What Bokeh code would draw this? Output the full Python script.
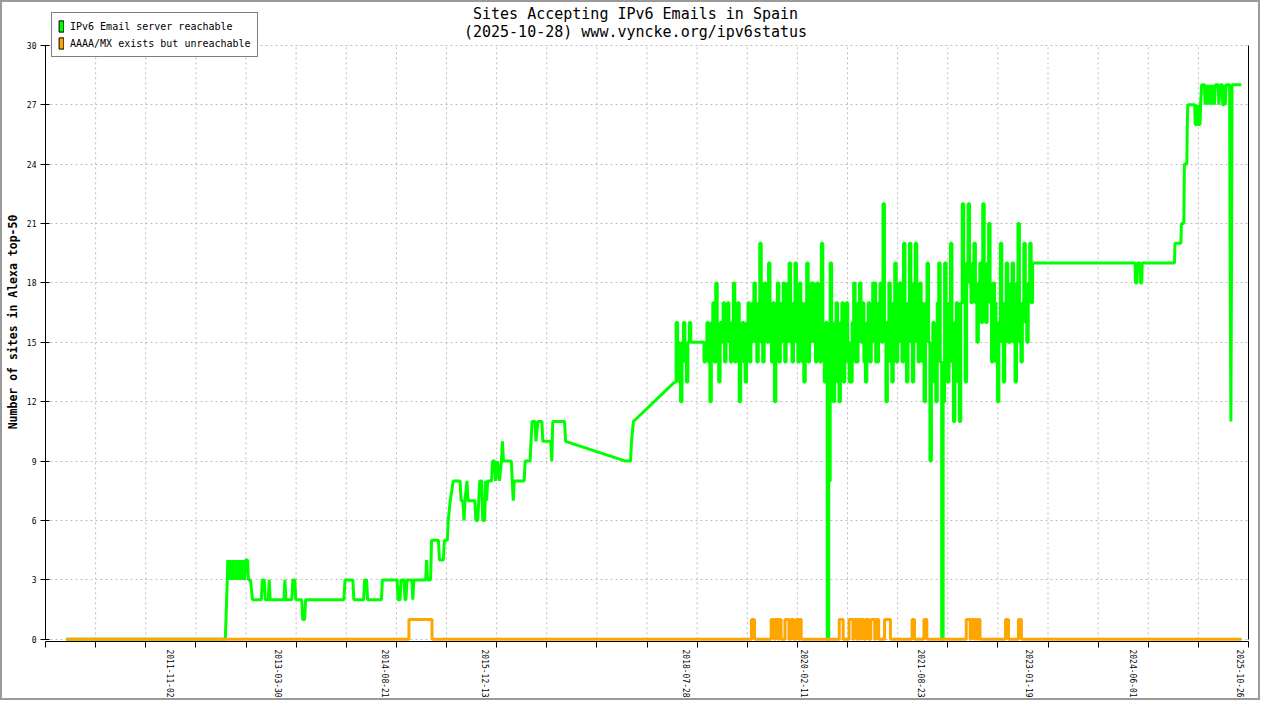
import numpy as np
import pandas as pd
from datetime import datetime
from bokeh.plotting import figure
from bokeh.models import (FixedTicker, LinearAxis, Range1d, Label, Legend, LegendItem,
                          DatetimeTickFormatter)
from bokeh.embed import file_html
from bokeh.resources import INLINE

# ---------------- data ----------------
title_line1 = "Sites Accepting IPv6 Emails in Spain"
title_line2 = "(2025-10-28) www.vyncke.org/ipv6status"
y_label = "Number of sites in Alexa top-50"
series_names = ["IPv6 Email server reachable", "AAAA/MX exists but unreachable"]

x_tick_labels = ["2011-11-02", "2013-03-30", "2014-08-21", "2015-12-13", "2018-07-28",
                 "2020-02-11", "2021-08-23", "2023-01-19", "2024-06-01", "2025-10-26"]
y_ticks = [0, 3, 6, 9, 12, 15, 18, 21, 24, 27, 30]

# reachable sites, early period (decimal years, counts)
reach_early_year = [
    2010.472, 2012.549, 2012.575, 2012.581, 2012.607, 2012.620, 2012.646, 2012.659, 2012.684,
    2012.697, 2012.723, 2012.736, 2012.761, 2012.774, 2012.800, 2012.813, 2012.839, 2012.851,
    2012.877, 2012.903, 2013.019, 2013.032, 2013.057, 2013.070, 2013.109, 2013.122, 2013.134,
    2013.314, 2013.327, 2013.340, 2013.417, 2013.430, 2013.456, 2013.469, 2013.546, 2013.559,
    2013.585, 2013.597, 2014.099, 2014.112, 2014.215, 2014.228, 2014.356, 2014.369, 2014.395,
    2014.408, 2014.588, 2014.601, 2014.794, 2014.806, 2014.832, 2014.845, 2014.884, 2014.897,
    2014.909, 2014.922, 2014.986, 2014.999, 2015.012, 2015.167, 2015.179, 2015.192, 2015.231,
    2015.244, 2015.334, 2015.347, 2015.398, 2015.411, 2015.450, 2015.462, 2015.488, 2015.527,
    2015.617, 2015.630, 2015.655, 2015.668, 2015.681, 2015.707, 2015.720, 2015.810, 2015.823,
    2015.848, 2015.861, 2015.874, 2015.900, 2015.913, 2015.938, 2015.951, 2015.964, 2015.977,
    2016.028, 2016.041, 2016.067, 2016.080, 2016.105, 2016.131, 2016.157, 2016.170, 2016.183,
    2016.286, 2016.298, 2016.311, 2016.324, 2016.453, 2016.466, 2016.530, 2016.543, 2016.556,
    2016.594, 2016.607, 2016.633, 2016.684, 2016.697, 2016.800, 2016.813, 2016.826, 2016.980,
    2016.993, 2017.778, 2017.842, 2017.855, 2017.880, 2018.421]
reach_early_count = [
    0, 0, 3, 4, 3, 4, 3, 4, 3,
    4, 3, 4, 3, 4, 3, 4, 4, 3,
    3, 2, 2, 3, 3, 2, 2, 3, 2,
    2, 3, 2, 2, 3, 3, 2, 2, 1,
    1, 2, 2, 3, 3, 2, 2, 3, 3,
    2, 2, 3, 3, 2, 2, 3, 3, 2,
    2, 3, 3, 2, 3, 3, 4, 3, 3,
    5, 5, 4, 4, 5, 5, 6, 7, 8,
    8, 7, 7, 6, 7, 8, 7, 7, 6,
    6, 7, 8, 8, 6, 6, 8, 7, 8,
    8, 9, 9, 8, 9, 8, 9, 10, 9,
    9, 8, 7, 8, 8, 9, 9, 10, 11,
    11, 10, 11, 11, 10, 10, 9, 11, 11,
    10, 9, 9, 10, 11, 13]

# reachable sites, busy period: one reading every 7 days
reach_dense_start = "2018-06-03"
reach_dense_step_days = 7
reach_dense_count = [
    13, 16, 15, 13, 12, 15, 16, 14, 13, 15,
    16, 15, 15, 15, 15, 15, 15, 15, 15, 15,
    14, 15, 16, 14, 12, 16, 17, 14, 18, 14,
    13, 16, 15, 17, 14, 16, 17, 15, 14, 16,
    18, 14, 15, 17, 12, 15, 16, 14, 13, 16,
    17, 14, 15, 17, 18, 15, 14, 17, 20, 15,
    14, 18, 17, 15, 19, 15, 14, 17, 12, 16,
    18, 14, 15, 17, 18, 14, 15, 18, 19, 15,
    14, 17, 19, 15, 14, 18, 17, 14, 13, 17,
    19, 14, 15, 18, 18, 15, 14, 18, 16, 14,
    20, 15, 13, 16, 0, 8, 19, 14, 12, 16,
    17, 13, 12, 16, 17, 13, 14, 17, 15, 13,
    13, 16, 18, 14, 14, 17, 18, 15, 17, 14,
    13, 16, 17, 14, 15, 18, 18, 14, 14, 17,
    18, 15, 22, 16, 12, 16, 18, 14, 13, 17,
    19, 14, 15, 18, 18, 14, 20, 16, 13, 17,
    20, 15, 13, 18, 20, 15, 14, 18, 17, 14,
    12, 17, 19, 15, 9, 14, 16, 13, 12, 17,
    19, 14, 0, 12, 19, 15, 13, 17, 20, 14,
    11, 16, 17, 13, 11, 17, 22, 17, 13, 19,
    22, 18, 17, 19, 20, 17, 15, 18, 19, 16,
    22, 17, 16, 19, 21, 17, 14, 18, 17, 14,
    12, 16, 20, 15, 13, 17, 19, 15, 15, 18,
    19, 15, 13, 18, 21, 15, 14, 17, 20, 16,
    15, 18, 20, 17, 19]

# reachable sites, late period (decimal years, counts)
reach_late_year = [
    2023.102, 2024.434, 2024.440, 2024.457, 2024.463, 2024.498, 2024.504, 2024.521, 2024.527,
    2024.948, 2024.954, 2025.032, 2025.038, 2025.070, 2025.077, 2025.109, 2025.115, 2025.122,
    2025.212, 2025.218, 2025.244, 2025.250, 2025.257, 2025.282, 2025.289, 2025.302, 2025.340,
    2025.347, 2025.360, 2025.366, 2025.379, 2025.392, 2025.405, 2025.424, 2025.437, 2025.443,
    2025.456, 2025.469, 2025.482, 2025.520, 2025.527, 2025.546, 2025.572, 2025.578, 2025.598,
    2025.604, 2025.611, 2025.623, 2025.668, 2025.675, 2025.685, 2025.694, 2025.700, 2025.822]
reach_late_count = [
    19, 19, 18, 18, 19, 19, 18, 18, 19,
    19, 20, 20, 21, 21, 24, 24, 26, 27,
    27, 26, 26, 27, 26, 26, 27, 28, 28,
    27, 28, 27, 28, 27, 28, 27, 28, 27,
    28, 27, 28, 28, 27, 28, 28, 27, 27,
    28, 27, 28, 28, 19, 11, 20, 28, 28]

# AAAA/MX exists but unreachable: periods with one such site (decimal years)
unreach_first = 2010.472
unreach_last = 2025.822
unreach_start = [2014.948, 2019.424, 2019.681, 2019.733, 2019.784, 2019.861, 2019.938, 2020.009,
                 2020.054, 2020.569, 2020.697, 2020.762, 2020.813, 2020.852, 2020.916, 2020.980,
                 2021.044, 2021.160, 2021.520, 2021.675, 2022.228, 2022.292, 2022.343, 2022.382,
                 2022.742, 2022.910]
unreach_end = [2015.250, 2019.463, 2019.720, 2019.771, 2019.810, 2019.913, 2019.977, 2020.041,
               2020.073, 2020.620, 2020.749, 2020.800, 2020.839, 2020.890, 2020.954, 2021.032,
               2021.083, 2021.237, 2021.552, 2021.713, 2022.279, 2022.331, 2022.369, 2022.408,
               2022.781, 2022.949]

# ---------------- helpers ----------------
def dec_year(y):
    yi = int(np.floor(y))
    a = datetime(yi, 1, 1)
    b = datetime(yi + 1, 1, 1)
    return a + (b - a) * (y - yi)

def ms(d):
    return pd.Timestamp(d).value / 1e6

GREEN = "#00FF00"
ORANGE = "#FFA500"
MONO = "DejaVu Sans Mono"
GRID = "#bdbdbd"

x_start = ms("2010-03-15")
x_end = ms("2025-12-01")
grid_ticks = list(np.linspace(x_start, x_end, 25))
label_ticks = [ms(d) for d in x_tick_labels]

W, H = 1260, 700
p = figure(width=W, height=H, x_axis_type="datetime", output_backend="svg",
           toolbar_location=None, title=None,
           x_range=Range1d(x_start, x_end), y_range=Range1d(-0.11, 32.16),
           min_border_left=42, min_border_right=14, min_border_top=0, min_border_bottom=61)
p.outline_line_color = None
p.background_fill_color = "white"
p.border_fill_color = "white"
p.styles = {"border": "2px solid #9a9a9a"}

# grids
p.xgrid.visible = False
p.ygrid.ticker = FixedTicker(ticks=y_ticks)
p.ygrid.grid_line_color = GRID
p.ygrid.grid_line_dash = "2 3"
p.ygrid.grid_line_width = 1
p.segment(x0=grid_ticks, y0=[y_ticks[0]] * len(grid_ticks),
          x1=grid_ticks, y1=[y_ticks[-1]] * len(grid_ticks),
          line_color=GRID, line_dash="2 3", line_width=1)

# x axis
xa = p.xaxis[0]
xa.ticker = FixedTicker(ticks=label_ticks, minor_ticks=grid_ticks)
xa.formatter = DatetimeTickFormatter(days="%Y-%m-%d", months="%Y-%m-%d", years="%Y-%m-%d")
xa.major_label_orientation = "vertical"
xa.major_tick_in = 0
xa.major_tick_out = 0
xa.minor_tick_in = 0
xa.minor_tick_out = 6
xa.minor_tick_line_color = "black"
xa.major_label_text_font = MONO
xa.major_label_text_font_size = "8px"
xa.major_label_text_color = "black"
xa.major_label_standoff = 2
xa.axis_line_color = "black"

# y axis
ya = p.yaxis[0]
ya.ticker = FixedTicker(ticks=y_ticks)
ya.bounds = (y_ticks[0], y_ticks[-1])
ya.major_tick_in = 4
ya.major_tick_out = 5
ya.minor_tick_line_color = None
ya.major_label_text_font = MONO
ya.major_label_text_font_size = "8px"
ya.major_label_text_color = "black"
ya.major_label_standoff = 4
ya.axis_label = y_label
ya.axis_label_text_font = MONO
ya.axis_label_text_font_size = "11.5px"
ya.axis_label_text_font_style = "bold"
ya.axis_label_text_color = "black"
ya.axis_label_standoff = 4

right = LinearAxis(ticker=FixedTicker(ticks=[]), bounds=(y_ticks[0], y_ticks[-1]),
                   major_tick_line_color=None, minor_tick_line_color=None,
                   major_label_text_font_size="0px", axis_line_color="black")
p.add_layout(right, "right")

# titles (inside the frame's top band)
for txt, sy in ((title_line1, 628), (title_line2, 610)):
    p.add_layout(Label(x=590, y=sy, x_units="screen", y_units="screen", text=txt,
                       text_align="center", text_baseline="middle",
                       text_font=MONO, text_font_size="15px", text_color="black"))

# reachable series
early_x = [dec_year(v) for v in reach_early_year]
p.line(early_x, reach_early_count, line_color=GREEN, line_width=3)

dense_x = pd.date_range(reach_dense_start, periods=len(reach_dense_count),
                        freq=f"{reach_dense_step_days}D")
p.step(dense_x, reach_dense_count, mode="after", line_color=GREEN, line_width=3)

late_x = [dec_year(v) for v in reach_late_year]
p.line(late_x, reach_late_count, line_color=GREEN, line_width=3)

# unreachable series
ux = [dec_year(unreach_first)]
uy = [0]
for s, e in zip(unreach_start, unreach_end):
    ux += [dec_year(s), dec_year(s), dec_year(e), dec_year(e)]
    uy += [0, 1, 1, 0]
ux.append(dec_year(unreach_last))
uy.append(0)
p.line(ux, uy, line_color=ORANGE, line_width=3)

# legend (rectangular swatches; proxy glyphs with no visible extent)
nan = [float("nan")]
sw1 = p.quad(left=nan, right=nan, top=nan, bottom=nan, fill_color=GREEN,
             line_color="black", line_width=1)
sw2 = p.quad(left=nan, right=nan, top=nan, bottom=nan, fill_color=ORANGE,
             line_color="black", line_width=1)
legend = Legend(items=[LegendItem(label=series_names[0], renderers=[sw1]),
                       LegendItem(label=series_names[1], renderers=[sw2])],
                location=(6, 584), border_line_color="black", border_line_width=1,
                background_fill_color="white", background_fill_alpha=1.0,
                label_text_font=MONO, label_text_font_size="10px", label_text_color="black",
                glyph_width=6, glyph_height=14, label_height=14, spacing=3,
                padding=6, margin=0, label_standoff=6)
p.add_layout(legend)

open("out.html", "w").write(file_html(p, INLINE))
